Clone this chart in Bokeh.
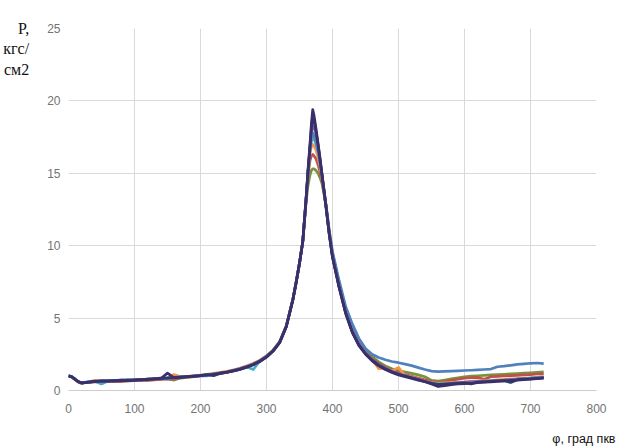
from bokeh.plotting import figure
from bokeh.models import Range1d, FixedTicker, Title
from bokeh.embed import file_html
from bokeh.resources import INLINE

# ---- data ----
phi = [0, 5, 10, 15, 20,
       30, 40, 50, 60, 70, 80, 90, 100, 110, 120,
       130, 140, 150, 160, 170, 180, 190, 200, 210, 220,
       230, 240, 250, 260, 270, 280, 290, 300, 310, 320,
       330, 340, 345, 350, 355, 360,
       363, 366, 368, 370, 372, 375, 378, 381, 384, 387, 390,
       395, 400, 410, 420, 430, 440, 450, 460, 470, 480,
       490, 500, 510, 520, 530, 540, 550, 560, 570, 580,
       590, 600, 610, 620, 630, 640, 650, 660, 670, 680,
       690, 700, 710, 720]

p_navy = [1.0, 0.93, 0.76, 0.6, 0.5,
          0.57, 0.62, 0.66, 0.64, 0.68, 0.66, 0.72, 0.7, 0.76, 0.74,
          0.8, 0.83, 1.2, 0.88, 0.92, 0.95, 0.98, 1.03, 1.07, 1.12,
          1.18, 1.26, 1.35, 1.46, 1.6, 1.78, 2.0, 2.3, 2.72, 3.3,
          4.4, 6.25, 7.45, 8.75, 10.3, 13.3,
          15.3, 17.1, 18.4, 19.4, 19.0, 18.1, 17.1, 16.1, 15.0, 13.9, 12.8,
          10.8, 9.2, 7.1, 5.3, 4.0, 3.1, 2.5, 2.05, 1.7, 1.45,
          1.25, 1.08, 0.95, 0.84, 0.72, 0.6, 0.45, 0.28, 0.34, 0.4,
          0.45, 0.48, 0.5, 0.55, 0.58, 0.6, 0.62, 0.66, 0.7, 0.72,
          0.75, 0.78, 0.82, 0.86]

p_dblue = [1.02, 0.95, 0.78, 0.6, 0.53,
           0.58, 0.63, 0.64, 0.67, 0.66, 0.7, 0.69, 0.74, 0.73, 0.78,
           0.8, 0.84, 0.86, 0.9, 0.91, 0.96, 1.0, 1.02, 1.1, 1.02,
           1.2, 1.27, 1.37, 1.48, 1.63, 1.8, 2.03, 2.33, 2.74, 3.33,
           4.42, 6.28, 7.5, 8.8, 10.3, 13.2,
           15.2, 16.9, 18.1, 19.0, 18.7, 17.9, 17.0, 16.0, 14.9, 13.8, 12.7,
           10.8, 9.2, 7.15, 5.35, 4.05, 3.15, 2.55, 2.1, 1.75, 1.5,
           1.3, 1.12, 1.0, 0.88, 0.75, 0.62, 0.5, 0.42, 0.44, 0.47,
           0.5, 0.53, 0.45, 0.58, 0.6, 0.63, 0.66, 0.68, 0.55, 0.75,
           0.78, 0.8, 0.84, 0.88]

p_purple = [1.0, 0.94, 0.77, 0.61, 0.52,
            0.56, 0.64, 0.65, 0.65, 0.69, 0.68, 0.7, 0.72, 0.74, 0.77,
            0.81, 0.83, 0.86, 0.89, 0.94, 0.97, 0.99, 1.05, 1.08, 1.14,
            1.21, 1.29, 1.39, 1.51, 1.65, 1.83, 2.06, 2.36, 2.76, 3.36,
            4.45, 6.3, 7.5, 8.8, 10.3, 13.2,
            15.1, 16.8, 17.8, 18.3, 18.2, 17.7, 16.9, 15.9, 14.9, 13.8, 12.8,
            10.9, 9.3, 7.2, 5.4, 4.1, 3.2, 2.6, 2.15, 1.8, 1.55,
            1.33, 1.15, 1.03, 0.9, 0.78, 0.62, 0.52, 0.3, 0.45, 0.5,
            0.53, 0.56, 0.6, 0.62, 0.65, 0.66, 0.7, 0.72, 0.76, 0.78,
            0.82, 0.84, 0.88, 0.9]

p_blue = [1.03, 0.96, 0.79, 0.62, 0.54,
          0.59, 0.65, 0.66, 0.68, 0.67, 0.71, 0.72, 0.73, 0.77, 0.78,
          0.82, 0.85, 0.88, 0.9, 0.94, 0.96, 1.01, 1.05, 1.09, 1.15,
          1.21, 1.28, 1.38, 1.5, 1.64, 1.82, 2.05, 2.35, 2.75, 3.35,
          4.45, 6.3, 7.5, 8.8, 10.3, 13.2,
          15.1, 16.7, 17.5, 17.8, 17.6, 17.2, 16.6, 15.8, 14.9, 13.9, 12.9,
          11.1, 9.6, 7.6, 5.8, 4.6, 3.6, 2.9, 2.5, 2.28, 2.12,
          2.0, 1.92, 1.82, 1.72, 1.58, 1.45, 1.34, 1.3, 1.32, 1.34,
          1.36, 1.38, 1.4, 1.43, 1.45, 1.48, 1.64, 1.68, 1.74, 1.8,
          1.84, 1.88, 1.9, 1.86]

p_cyan = [1.01, 0.94, 0.78, 0.6, 0.52,
          0.58, 0.63, 0.45, 0.66, 0.68, 0.72, 0.74, 0.71, 0.75, 0.78,
          0.8, 0.84, 0.86, 0.91, 0.93, 0.95, 1.0, 1.03, 1.0, 1.13,
          1.2, 1.27, 1.36, 1.48, 1.62, 1.45, 2.04, 2.36, 2.77, 3.36,
          4.44, 6.3, 7.5, 8.8, 10.3, 13.2,
          15.2, 16.6, 17.2, 17.5, 17.4, 17.0, 16.5, 15.7, 14.8, 13.8, 12.8,
          10.9, 9.3, 7.2, 5.4, 4.05, 3.15, 2.55, 2.1, 1.75, 1.5,
          1.3, 1.13, 1.0, 0.88, 0.76, 0.64, 0.52, 0.45, 0.48, 0.5,
          0.54, 0.56, 0.6, 0.6, 0.64, 0.67, 0.7, 0.72, 0.76, 0.8,
          0.82, 0.86, 0.9, 0.93]

p_orange = [1.0, 0.92, 0.74, 0.56, 0.48,
            0.6, 0.7, 0.68, 0.7, 0.69, 0.73, 0.72, 0.76, 0.75, 0.79,
            0.83, 0.86, 0.88, 1.1, 0.95, 0.98, 1.02, 1.07, 1.12, 1.18,
            1.25, 1.33, 1.42, 1.55, 1.7, 1.88, 2.1, 2.4, 2.8, 3.38,
            4.47, 6.32, 7.5, 8.8, 10.3, 13.2,
            15.1, 16.4, 16.8, 17.0, 16.9, 16.6, 16.1, 15.5, 14.7, 13.8, 12.8,
            10.9, 9.3, 7.2, 5.4, 4.1, 3.2, 2.6, 2.15, 1.5, 1.55,
            1.35, 1.6, 1.03, 0.92, 0.8, 0.66, 0.55, 0.5, 0.52, 0.55,
            0.58, 0.6, 0.64, 0.66, 0.68, 0.7, 0.74, 0.77, 0.8, 0.82,
            0.86, 0.88, 0.92, 0.95]

p_red = [1.02, 0.95, 0.78, 0.6, 0.52,
         0.56, 0.6, 0.62, 0.62, 0.64, 0.63, 0.66, 0.68, 0.7, 0.72,
         0.74, 0.77, 0.8, 0.78, 0.88, 0.92, 0.97, 1.02, 1.07, 1.12,
         1.19, 1.27, 1.37, 1.49, 1.63, 1.81, 2.04, 2.34, 2.74, 3.34,
         4.44, 6.3, 7.5, 8.8, 10.3, 13.2,
         14.9, 15.9, 16.2, 16.3, 16.2, 16.0, 15.6, 15.1, 14.5, 13.7, 12.8,
         10.9, 9.35, 7.25, 5.45, 4.15, 3.25, 2.65, 2.2, 1.85, 1.6,
         1.4, 1.22, 1.1, 0.98, 0.86, 0.74, 0.62, 0.55, 0.62, 0.7,
         0.78, 0.85, 0.88, 0.9, 0.78, 0.95, 0.98, 1.0, 1.03, 1.05,
         1.08, 1.1, 1.14, 1.15]

p_green = [1.0, 0.93, 0.77, 0.6, 0.53,
           0.57, 0.61, 0.63, 0.64, 0.65, 0.66, 0.67, 0.69, 0.7, 0.72,
           0.75, 0.78, 0.81, 0.72, 0.86, 0.9, 0.95, 1.0, 1.05, 1.1,
           1.17, 1.25, 1.35, 1.47, 1.61, 1.79, 2.02, 2.32, 2.72, 3.32,
           4.42, 6.28, 7.5, 8.8, 10.3, 13.0,
           14.2, 14.9, 15.2, 15.3, 15.3, 15.2, 15.0, 14.7, 14.3, 13.6, 12.8,
           11.0, 9.45, 7.4, 5.6, 4.3, 3.4, 2.8, 2.35, 1.98, 1.7,
           1.5, 1.38, 1.28, 1.18, 1.08, 0.95, 0.7, 0.65, 0.72, 0.8,
           0.88, 0.95, 1.0, 1.02, 1.05, 1.08, 1.1, 1.12, 1.15, 1.17,
           1.2, 1.22, 1.25, 1.28]

x_ticks = [0, 100, 200, 300, 400, 500, 600, 700, 800]
y_ticks = [0, 5, 10, 15, 20, 25]
y_title = "\n\nP,\nкгс/\nсм2"
x_title = "φ, град пкв"

# ---- styling ----
series = [
    (p_green, "#77933C"),
    (p_red, "#C0504D"),
    (p_orange, "#F79646"),
    (p_cyan, "#4BACC6"),
    (p_blue, "#4F81BD"),
    (p_purple, "#8064A2"),
    (p_dblue, "#24406E"),
    (p_navy, "#3B2F6B"),
]

p = figure(width=630, height=446, output_backend="svg", toolbar_location=None,
           x_range=Range1d(0, 800), y_range=Range1d(0, 25),
           min_border_left=68, min_border_right=34, min_border_top=28,
           min_border_bottom=55,
           background_fill_color="white", border_fill_color="white")
p.outline_line_color = None

for ys, col in series:
    p.line(phi, ys, line_color=col, line_width=2.7, line_join="round")

p.xaxis.ticker = FixedTicker(ticks=x_ticks)
p.yaxis.ticker = FixedTicker(ticks=y_ticks)
p.xgrid.grid_line_color = "#d9d9d9"
p.ygrid.grid_line_color = "#d9d9d9"

TICK_FONT = "Liberation Sans"
for ax in (p.xaxis[0], p.yaxis[0]):
    ax.major_tick_line_color = None
    ax.minor_tick_line_color = None
    ax.major_tick_out = 0
    ax.major_tick_in = 0
    ax.minor_tick_out = 0
    ax.minor_tick_in = 0
    ax.major_label_text_color = "#737373"
    ax.major_label_text_font = TICK_FONT
    ax.major_label_text_font_size = "12px"
p.xaxis.axis_line_color = "#cccccc"
p.yaxis.axis_line_color = None
p.xaxis.major_label_standoff = 13
p.yaxis.major_label_standoff = 8

# a blank x-axis label only reserves space so the x title sits at the bottom
xax = p.xaxis[0]
xax.axis_label = " "
xax.axis_label_text_font_size = "1px"
xax.axis_label_standoff = 9

yax = p.yaxis[0]
yax.axis_label = y_title
yax.axis_label_text_font = "Liberation Serif"
yax.axis_label_text_font_size = "16px"
yax.axis_label_text_font_style = "normal"
yax.axis_label_text_color = "#111111"
yax.axis_label_standoff = 15
try:
    yax.axis_label_orientation = "horizontal"
except Exception:
    pass
try:
    yax.axis_label_align = "end"
except Exception:
    pass

p.add_layout(Title(text=x_title, align="right", offset=-19,
                   text_font=TICK_FONT, text_font_size="12.5px",
                   text_font_style="normal", text_color="#111111",
                   standoff=2), "below")

open("out.html", "w").write(file_html(p, INLINE))
